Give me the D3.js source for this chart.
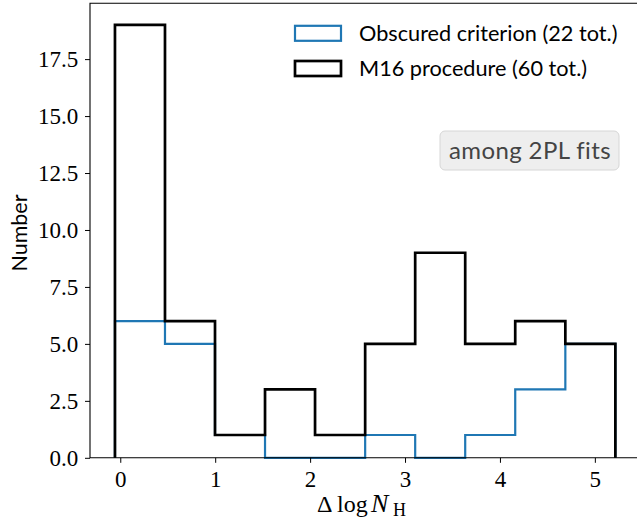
<!DOCTYPE html>
<html>
<head>
<meta charset="utf-8">
<script src="https://cdn.jsdelivr.net/npm/d3@7"></script>
<style>
  html, body { margin: 0; padding: 0; background: #fff; }
  svg { display: block; }
</style>
</head>
<body>
<svg id="chart" width="637" height="523"></svg>
<script>
// Histogram bin edges (Δ log N_H)
const binEdges = [-0.056, 0.471, 0.998, 1.525, 2.052, 2.580, 3.107, 3.634, 4.161, 4.689, 5.216];
// Counts per bin for each selection
const obscuredCounts = [6, 5, 1, 0, 0, 1, 0, 1, 3, 5];
const m16Counts = [19, 6, 1, 3, 1, 5, 9, 5, 6, 5];
const seriesNames = ["Obscured criterion (22 tot.)", "M16 procedure (60 tot.)"];
const seriesColors = ["#1f77b4", "#000000"];
const xTicks = [0, 1, 2, 3, 4, 5];
const yTicks = [0, 2.5, 5, 7.5, 10, 12.5, 15, 17.5];

const svg = d3.select("#chart");
const W = 637, H = 523;
const plot = { left: 90, top: 3.3, bottom: 457.8 };

const x = d3.scaleLinear().domain([-0.319, 5.444]).range([plot.left, W]);
const y = d3.scaleLinear().domain([0, 19.95]).range([plot.bottom, plot.top]);

const serif = "'Liberation Serif', 'DejaVu Serif', serif";
const sans = "Lato, 'Open Sans', sans-serif";
const strokeW = [2.2, 2.7];

// Step outline of a histogram
function stepPath(counts) {
  const pts = [[binEdges[0], 0]];
  counts.forEach((c, i) => {
    pts.push([binEdges[i], c]);
    pts.push([binEdges[i + 1], c]);
  });
  pts.push([binEdges[binEdges.length - 1], 0]);
  return d3.line().x(d => x(d[0])).y(d => y(d[1]))(pts);
}

const marks = svg.append("g");
[obscuredCounts, m16Counts].forEach((counts, k) => {
  marks.append("path")
    .attr("d", stepPath(counts))
    .attr("fill", "none")
    .attr("stroke", seriesColors[k])
    .attr("stroke-width", strokeW[k])
    .attr("stroke-linejoin", "miter")
    .attr("stroke-linecap", "butt");
});

// Axes
const xAxis = d3.axisBottom(x).tickValues(xTicks).tickFormat(d3.format("d")).tickSize(5).tickPadding(7.5);
const yAxis = d3.axisLeft(y).tickValues(yTicks).tickFormat(d3.format(".1f")).tickSize(5).tickPadding(6.7);

const gx = svg.append("g").attr("transform", `translate(0,${plot.bottom})`).call(xAxis);
const gy = svg.append("g").attr("transform", `translate(${plot.left},0)`).call(yAxis);
[gx, gy].forEach(g => {
  g.select(".domain").remove();
  g.selectAll(".tick line").attr("stroke", "#000").attr("stroke-width", 1);
  g.selectAll(".tick text").attr("fill", "#000").style("font-family", serif).style("font-size", "23px");
});

// Frame (left, top, bottom spines)
svg.append("path")
  .attr("d", `M${W},${plot.top}H${plot.left}V${plot.bottom}H${W}`)
  .attr("fill", "none").attr("stroke", "#000").attr("stroke-width", 1.1);

// Axis titles
svg.append("text")
  .attr("transform", `translate(27,233) rotate(-90)`)
  .attr("text-anchor", "middle")
  .style("font-family", sans).style("font-size", "21.5px")
  .text("Number");

const xl = svg.append("text")
  .attr("y", 512)
  .style("font-family", serif).style("font-size", "24px");
xl.append("tspan").attr("x", 317).text("Δ");
xl.append("tspan").attr("x", 337).text("log");
xl.append("tspan").attr("x", 371).style("font-style", "italic").style("font-size", "26px").text("N");
xl.append("tspan").attr("x", 393).attr("dy", 4).style("font-size", "18px").text("H");

// Legend
const legend = svg.append("g");
seriesNames.forEach((name, i) => {
  const cy = 33.3 + i * 35.2;
  legend.append("rect")
    .attr("x", 295).attr("y", cy - 7.5).attr("width", 46).attr("height", 15)
    .attr("fill", "none").attr("stroke", seriesColors[i]).attr("stroke-width", strokeW[i]);
  legend.append("text")
    .attr("x", 359).attr("y", cy).attr("dy", "0.35em")
    .style("font-family", sans).style("font-size", "21.7px")
    .text(name);
});

// Annotation box
const note = svg.append("g");
note.append("rect")
  .attr("x", 440).attr("y", 131).attr("width", 179).attr("height", 39)
  .attr("rx", 5).attr("fill", "#eeeeee").attr("stroke", "#d6d6d6").attr("stroke-width", 1);
note.append("text")
  .attr("x", 530).attr("y", 150.5).attr("dy", "0.35em")
  .attr("text-anchor", "middle").attr("fill", "#444")
  .style("font-family", sans).style("font-size", "24px").style("letter-spacing", "0.4px")
  .text("among 2PL fits");
</script>
</body>
</html>
